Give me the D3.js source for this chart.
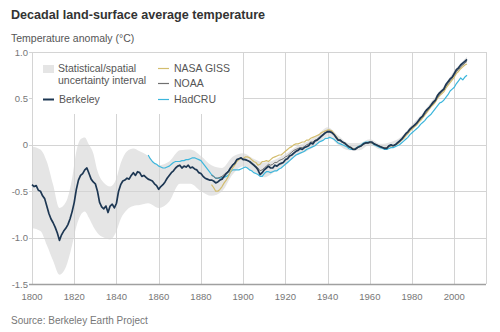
<!DOCTYPE html>
<html>
<head>
<meta charset="utf-8">
<script src="https://cdn.jsdelivr.net/npm/d3@7"></script>
<style>
  body { margin: 0; background: #fff; }
  svg { display: block; font-family: "Liberation Sans", Arial, sans-serif; }
  .title { font-size: 12.6px; font-weight: bold; fill: #333; }
  .subtitle { font-size: 10.5px; fill: #555; }
  .source { font-size: 10px; fill: #777; }
  .tick-label { font-size: 9.5px; fill: #777; }
  .legend-text { font-size: 10.5px; fill: #555; }
</style>
</head>
<body>
<div class="chart"></div>
<script>
var svgWidth = 500;
var svgHeight = 332;

// Decadal moving averages, one value per year from the start year
var berkeleyStart = 1800;
var berkeley = [
  -0.43, -0.45, -0.44, -0.49, -0.50, -0.55, -0.58, -0.66, -0.74, -0.80,
  -0.84, -0.89, -0.95, -1.03, -0.97, -0.93, -0.90, -0.86, -0.80, -0.72,
  -0.62, -0.48, -0.38, -0.33, -0.31, -0.27, -0.25, -0.31, -0.37, -0.40,
  -0.42, -0.50, -0.62, -0.67, -0.69, -0.66, -0.73, -0.66, -0.64, -0.68,
  -0.63, -0.50, -0.43, -0.39, -0.38, -0.36, -0.37, -0.33, -0.30, -0.33,
  -0.29, -0.30, -0.34, -0.33, -0.35, -0.37, -0.38, -0.39, -0.42, -0.44,
  -0.48, -0.45, -0.43, -0.40, -0.36, -0.33, -0.30, -0.28, -0.25, -0.23,
  -0.22, -0.25, -0.23, -0.24, -0.22, -0.25, -0.24, -0.26, -0.27, -0.30,
  -0.31, -0.34, -0.36, -0.37, -0.38, -0.38, -0.39, -0.41, -0.40, -0.38,
  -0.37, -0.34, -0.31, -0.29, -0.25, -0.22, -0.20, -0.16, -0.15, -0.14,
  -0.16, -0.16, -0.17, -0.18, -0.20, -0.22, -0.24, -0.27, -0.32, -0.30,
  -0.27, -0.25, -0.23, -0.25, -0.25, -0.22, -0.23, -0.21, -0.20, -0.19,
  -0.16, -0.15, -0.12, -0.11, -0.09, -0.07, -0.06, -0.04, -0.05, -0.03,
  -0.02, -0.01, 0.02, 0.01, 0.04, 0.05, 0.07, 0.09, 0.11, 0.13,
  0.14, 0.14, 0.13, 0.11, 0.08, 0.05, 0.05, 0.03, 0.02, 0.00,
  -0.02, -0.03, -0.05, -0.05, -0.03, -0.02, -0.01, 0.01, 0.02, 0.02,
  0.03, 0.03, 0.01, 0.00, -0.01, -0.02, -0.03, -0.04, -0.04, -0.01,
  0.00, -0.01, 0.00, 0.02, 0.04, 0.06, 0.09, 0.12, 0.14, 0.17,
  0.19, 0.21, 0.23, 0.26, 0.29, 0.31, 0.35, 0.38, 0.40, 0.43,
  0.46, 0.48, 0.53, 0.56, 0.58, 0.60, 0.65, 0.68, 0.71, 0.73,
  0.77, 0.81, 0.83, 0.86, 0.88, 0.90, 0.92
];

var nasaStart = 1885;
var nasa = [
  -0.43, -0.46, -0.50, -0.50, -0.48, -0.45, -0.41, -0.38, -0.34, -0.29,
  -0.25, -0.22, -0.18, -0.16, -0.15, -0.15, -0.13, -0.13, -0.14, -0.16,
  -0.18, -0.19, -0.22, -0.21, -0.18, -0.18, -0.17, -0.18, -0.16, -0.14,
  -0.13, -0.12, -0.11, -0.11, -0.09, -0.07, -0.05, -0.03, -0.02, 0.00,
  0.01, 0.01, 0.02, 0.03, 0.03, 0.05, 0.05, 0.07, 0.08, 0.09,
  0.10, 0.11, 0.13, 0.14, 0.15, 0.16, 0.16, 0.15, 0.12, 0.09,
  0.06, 0.05, 0.03, 0.02, 0.00, -0.02, -0.03, -0.04, -0.05, -0.03,
  -0.02, -0.01, 0.01, 0.02, 0.02, 0.03, 0.02, 0.01, 0.00, -0.01,
  -0.02, -0.03, -0.03, -0.03, -0.02, -0.01, -0.01, 0.00, 0.01, 0.03,
  0.05, 0.07, 0.10, 0.12, 0.15, 0.17, 0.19, 0.21, 0.24, 0.26,
  0.29, 0.32, 0.35, 0.38, 0.41, 0.43, 0.46, 0.50, 0.53, 0.55,
  0.57, 0.61, 0.64, 0.67, 0.70, 0.73, 0.77, 0.79, 0.82, 0.84,
  0.86, 0.87
];

var noaaStart = 1885;
var noaa = [
  -0.33, -0.34, -0.36, -0.36, -0.35, -0.34, -0.32, -0.30, -0.28, -0.25,
  -0.22, -0.19, -0.16, -0.15, -0.14, -0.15, -0.16, -0.17, -0.18, -0.19,
  -0.21, -0.23, -0.25, -0.28, -0.27, -0.25, -0.23, -0.21, -0.22, -0.21,
  -0.19, -0.19, -0.17, -0.16, -0.15, -0.13, -0.12, -0.10, -0.08, -0.06,
  -0.05, -0.04, -0.03, -0.03, -0.02, 0.00, 0.01, 0.03, 0.03, 0.05,
  0.06, 0.08, 0.10, 0.12, 0.13, 0.15, 0.15, 0.14, 0.11, 0.08,
  0.05, 0.04, 0.03, 0.01, 0.00, -0.02, -0.03, -0.05, -0.05, -0.04,
  -0.02, -0.01, 0.01, 0.02, 0.02, 0.02, 0.02, 0.01, 0.00, -0.01,
  -0.02, -0.03, -0.03, -0.03, -0.02, -0.01, -0.01, 0.00, 0.01, 0.03,
  0.05, 0.08, 0.11, 0.13, 0.16, 0.18, 0.20, 0.22, 0.25, 0.28,
  0.30, 0.33, 0.36, 0.39, 0.42, 0.44, 0.47, 0.51, 0.54, 0.57,
  0.59, 0.63, 0.66, 0.69, 0.72, 0.75, 0.79, 0.81, 0.84, 0.86,
  0.88, 0.90
];

var hadcruStart = 1855;
var hadcru = [
  -0.11, -0.15, -0.18, -0.20, -0.21, -0.23, -0.24, -0.25, -0.25, -0.24,
  -0.23, -0.21, -0.19, -0.18, -0.18, -0.18, -0.17, -0.17, -0.16, -0.16,
  -0.15, -0.14, -0.14, -0.15, -0.16, -0.17, -0.20, -0.23, -0.26, -0.29,
  -0.32, -0.34, -0.36, -0.36, -0.36, -0.35, -0.35, -0.34, -0.33, -0.29,
  -0.27, -0.27, -0.27, -0.27, -0.26, -0.25, -0.24, -0.25, -0.27, -0.28,
  -0.30, -0.31, -0.32, -0.34, -0.34, -0.31, -0.29, -0.29, -0.30, -0.29,
  -0.28, -0.28, -0.26, -0.25, -0.23, -0.21, -0.19, -0.17, -0.15, -0.13,
  -0.11, -0.10, -0.09, -0.08, -0.07, -0.05, -0.04, -0.03, -0.02, -0.01,
  0.01, 0.03, 0.04, 0.05, 0.07, 0.07, 0.08, 0.07, 0.06, 0.04,
  0.02, 0.01, 0.00, -0.01, -0.02, -0.04, -0.05, -0.05, -0.04, -0.03,
  -0.01, 0.00, 0.02, 0.03, 0.03, 0.03, 0.02, 0.00, -0.01, -0.02,
  -0.03, -0.04, -0.05, -0.05, -0.04, -0.03, -0.03, -0.02, -0.01, 0.00,
  0.02, 0.04, 0.06, 0.08, 0.11, 0.13, 0.15, 0.17, 0.19, 0.22,
  0.24, 0.26, 0.29, 0.31, 0.33, 0.36, 0.39, 0.42, 0.45, 0.46,
  0.48, 0.51, 0.54, 0.58, 0.60, 0.62, 0.66, 0.69, 0.72, 0.70,
  0.73, 0.75
];

// Statistical/spatial uncertainty interval around the Berkeley series
var bandYears = [
  1800, 1804, 1807, 1810, 1813, 1816, 1819, 1821, 1823, 1825,
  1827, 1829, 1831, 1834, 1837, 1840, 1842, 1845, 1848, 1851,
  1855, 1860, 1865, 1870, 1875, 1880, 1885, 1890, 1895, 1900,
  1905, 1910, 1915, 1920, 1925, 1930, 1935, 1940, 1945, 1950,
  1955, 1960, 1965, 1970, 1975, 1980, 1985, 1990, 1995, 2000, 2006
];
var bandHigh = [
  -0.02, -0.05, -0.18, -0.43, -0.68, -0.62, -0.36, -0.07, 0.06, 0.08,
  0.00, -0.09, -0.28, -0.41, -0.45, -0.36, -0.20, -0.07, -0.04, -0.07,
  -0.12, -0.22, -0.18, -0.06, -0.05, -0.12, -0.22, -0.25, -0.13, -0.09,
  -0.15, -0.19, -0.16, -0.10, -0.02, 0.03, 0.10, 0.19, 0.10, 0.02,
  0.02, 0.06, 0.01, 0.03, 0.09, 0.22, 0.34, 0.49, 0.63, 0.80, 0.95
];
var bandLow = [
  -0.90, -0.93, -1.08, -1.25, -1.40, -1.32, -1.08, -0.88, -0.76, -0.72,
  -0.79, -0.88, -0.95, -1.00, -1.02, -0.93, -0.80, -0.70, -0.66, -0.65,
  -0.63, -0.68, -0.61, -0.42, -0.42, -0.50, -0.55, -0.50, -0.32, -0.23,
  -0.29, -0.35, -0.29, -0.22, -0.12, -0.07, 0.00, 0.09, 0.00, -0.06,
  -0.06, 0.00, -0.05, -0.03, 0.03, 0.16, 0.28, 0.43, 0.57, 0.74, 0.89
];

var yearTicks = [1800, 1820, 1840, 1860, 1880, 1900, 1920, 1940, 1960, 1980, 2000];
var valueTicks = [-1.5, -1.0, -0.5, 0, 0.5, 1.0];

var colors = {
  band: "#e5e5e5",
  berkeley: "#1d3753",
  nasa: "#d3bd6e",
  noaa: "#707070",
  hadcru: "#3cb6dc"
};

function toPoints(start, values) {
  return values.map(function(v, i) { return { year: start + i, value: v }; });
}

var svg = d3.select(".chart")
  .append("svg")
  .attr("width", svgWidth)
  .attr("height", svgHeight);

var x = d3.scaleLinear().domain([1800, 2015]).range([32, 486]);
var y = d3.scaleLinear().domain([-1.5, 1.0]).range([284, 52]);

// Uncertainty band
var band = bandYears.map(function(yr, i) {
  return { year: yr, lo: bandLow[i], hi: bandHigh[i] };
});
svg.append("path")
  .datum(band)
  .attr("fill", colors.band)
  .attr("d", d3.area()
    .x(function(d) { return x(d.year); })
    .y0(function(d) { return y(d.lo); })
    .y1(function(d) { return y(d.hi); })
    .curve(d3.curveMonotoneX));

// Grid
var grid = svg.append("g").attr("stroke", "#d4d4d4").attr("stroke-width", 1);
grid.selectAll(".vgrid")
  .data(yearTicks)
  .enter().append("line")
  .attr("x1", function(d) { return Math.round(x(d)) + 0.5; })
  .attr("x2", function(d) { return Math.round(x(d)) + 0.5; })
  .attr("y1", y(1.0))
  .attr("y2", y(-1.5));
grid.append("line")
  .attr("x1", Math.round(x(2015)) + 0.5)
  .attr("x2", Math.round(x(2015)) + 0.5)
  .attr("y1", y(1.0))
  .attr("y2", y(-1.5));
grid.selectAll(".hgrid")
  .data(valueTicks.filter(function(d) { return d > -1.5; }))
  .enter().append("line")
  .attr("x1", 29)
  .attr("x2", x(2015))
  .attr("y1", function(d) { return Math.round(y(d)) + 0.5; })
  .attr("y2", function(d) { return Math.round(y(d)) + 0.5; });

// Bottom axis line
svg.append("line")
  .attr("x1", 29)
  .attr("x2", x(2015))
  .attr("y1", y(-1.5) + 0.5)
  .attr("y2", y(-1.5) + 0.5)
  .attr("stroke", "#a0a0a0")
  .attr("stroke-width", 1.5);

// Tick labels
svg.selectAll(".xlab")
  .data(yearTicks)
  .enter().append("text")
  .attr("class", "tick-label")
  .attr("x", function(d) { return x(d); })
  .attr("y", 300)
  .attr("text-anchor", "middle")
  .text(function(d) { return d; });

svg.selectAll(".ylab")
  .data(valueTicks)
  .enter().append("text")
  .attr("class", "tick-label")
  .attr("x", 28)
  .attr("y", function(d) { return y(d) + 3.5; })
  .attr("text-anchor", "end")
  .text(function(d) { return d === 0 ? "0" : d.toFixed(1).replace("\u2212", "-"); });

// Series lines
var line = d3.line()
  .x(function(d) { return x(d.year); })
  .y(function(d) { return y(d.value); })
  .curve(d3.curveLinear);

var series = [
  { data: toPoints(hadcruStart, hadcru), color: colors.hadcru, width: 1.2 },
  { data: toPoints(nasaStart, nasa), color: colors.nasa, width: 1.2 },
  { data: toPoints(noaaStart, noaa), color: colors.noaa, width: 1 },
  { data: toPoints(berkeleyStart, berkeley), color: colors.berkeley, width: 1.7 }
];

svg.selectAll(".series")
  .data(series)
  .enter().append("path")
  .attr("fill", "none")
  .attr("stroke", function(d) { return d.color; })
  .attr("stroke-width", function(d) { return d.width; })
  .attr("stroke-linejoin", "round")
  .attr("d", function(d) { return line(d.data); });

// Legend panel sits over the grid in the top-left corner
var legend = svg.append("g");
legend.append("rect")
  .attr("x", x(1800) + 1)
  .attr("y", y(1.0) + 1)
  .attr("width", x(1900) - x(1800) - 1.5)
  .attr("height", 61)
  .attr("fill", "#fff");

legend.append("rect")
  .attr("x", 43).attr("y", 65)
  .attr("width", 11).attr("height", 8)
  .attr("fill", colors.band);
legend.append("text").attr("class", "legend-text")
  .attr("x", 58).attr("y", 72).text("Statistical/spatial");
legend.append("text").attr("class", "legend-text")
  .attr("x", 58).attr("y", 84).text("uncertainty interval");

var legendLines = [
  { label: "Berkeley", color: colors.berkeley, width: 2, lx: 43, ly: 99.5 },
  { label: "NASA GISS", color: colors.nasa, width: 1.2, lx: 158, ly: 68.5 },
  { label: "NOAA", color: colors.noaa, width: 1.2, lx: 158, ly: 83.5 },
  { label: "HadCRU", color: colors.hadcru, width: 1.2, lx: 158, ly: 99.5 }
];
legendLines.forEach(function(d) {
  legend.append("line")
    .attr("x1", d.lx).attr("x2", d.lx + 11)
    .attr("y1", d.ly).attr("y2", d.ly)
    .attr("stroke", d.color)
    .attr("stroke-width", d.width);
  legend.append("text").attr("class", "legend-text")
    .attr("x", d.lx + 16).attr("y", d.ly + 3.5)
    .text(d.label);
});

// Titles
svg.append("text").attr("class", "title").attr("x", 11).attr("y", 19)
  .text("Decadal land-surface average temperature");
svg.append("text").attr("class", "subtitle").attr("x", 11).attr("y", 42)
  .text("Temperature anomaly (\u00b0C)");
svg.append("text").attr("class", "source").attr("x", 11).attr("y", 324)
  .text("Source: Berkeley Earth Project");
</script>
</body>
</html>
